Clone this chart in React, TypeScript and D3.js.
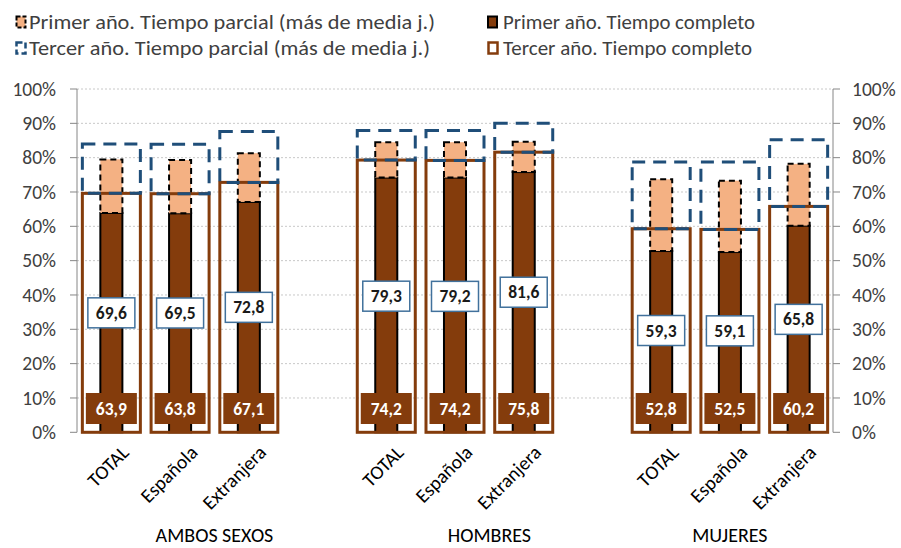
import React from "react";
import * as d3 from "d3";

const groups = ["AMBOS SEXOS", "HOMBRES", "MUJERES"];
const subCategories = ["TOTAL", "Española", "Extranjera"];
const primerCompleto = [63.9, 63.8, 67.1, 74.2, 74.2, 75.8, 52.8, 52.5, 60.2];
const primerParcial = [15.6, 15.5, 14.2, 10.3, 10.3, 8.8, 20.9, 20.8, 18.0];
const tercerCompleto = [69.6, 69.5, 72.8, 79.3, 79.2, 81.6, 59.3, 59.1, 65.8];
const tercerParcial = [14.4, 14.4, 14.8, 8.6, 8.7, 8.4, 19.4, 19.6, 19.4];
const yTicks = [0, 10, 20, 30, 40, 50, 60, 70, 80, 90, 100];
const legendLabels = [
  "Primer año. Tiempo parcial (más de media j.)",
  "Primer año. Tiempo completo",
  "Tercer año. Tiempo parcial (más de media j.)",
  "Tercer año. Tiempo completo",
];

const W = 901;
const H = 548;
const BROWN = "#843C0C";
const PEACH = "#F4B183";
const BLUE = "#1F4E79";
const BOXBLUE = "#41719C";
const AXIS = "#868686";
const TEXT = "#404040";
const FONT = "Carlito, Calibri, Lato, sans-serif";

const fmt = (v: number) => v.toFixed(1).replace(".", ",");

export default function App() {
  const left = 77;
  const right = 833;
  const slots = d3.range(11);
  const x = d3
    .scaleBand<number>()
    .domain(slots)
    .range([left, right])
    .paddingInner(0.156)
    .paddingOuter(0.078);
  const y = d3.scaleLinear().domain([0, 100]).range([432.3, 89]);

  const items = groups.flatMap((g, gi) =>
    subCategories.map((c, ci) => ({ group: g, cat: c, slot: gi * 4 + ci, idx: gi * 3 + ci }))
  );

  const bw = x.bandwidth();
  const innerW = bw * 0.38;

  const groupSpans = [
    [0, 3],
    [4, 7],
    [8, 10],
  ];

  const legendWidths = [406, 252, 401, 249];

  return (
    <svg
      width={W}
      height={H}
      style={{ position: "absolute", left: 0, top: 0, background: "#fff" }}
      fontFamily={FONT}
    >
      {/* legend */}
      <g fontSize={20} fill={TEXT}>
        <rect x={16.5} y={16.5} width={9} height={11} fill={PEACH} stroke="#000" strokeWidth={2} strokeDasharray="4,2" />
        <text x={29} y={29} textLength={legendWidths[0]} lengthAdjust="spacingAndGlyphs">{legendLabels[0]}</text>
        <rect x={488} y={16.5} width={9} height={11} fill={BROWN} stroke="#000" strokeWidth={2} />
        <text x={503} y={29} textLength={legendWidths[1]} lengthAdjust="spacingAndGlyphs">{legendLabels[1]}</text>
        <rect x={16.5} y={42.5} width={9} height={11} fill="none" stroke={BLUE} strokeWidth={2.5} strokeDasharray="6,3" />
        <text x={29} y={55} textLength={legendWidths[2]} lengthAdjust="spacingAndGlyphs">{legendLabels[2]}</text>
        <rect x={488.5} y={42.5} width={9} height={11} fill="#fff" stroke={BROWN} strokeWidth={2.5} />
        <text x={503} y={55} textLength={legendWidths[3]} lengthAdjust="spacingAndGlyphs">{legendLabels[3]}</text>
      </g>

      {/* gridlines */}
      {yTicks.slice(1).map((t) => (
        <line
          key={"g" + t}
          x1={left}
          x2={right}
          y1={y(t)}
          y2={y(t)}
          stroke="#C8C8C8"
          strokeWidth={1}
          strokeDasharray="2,2"
        />
      ))}

      {/* inner bars: primer año */}
      {items.map((d) => {
        const cx = (x(d.slot) as number) + bw / 2;
        const top1 = y(primerCompleto[d.idx]);
        const top2 = y(primerCompleto[d.idx] + primerParcial[d.idx]);
        return (
          <g key={"in" + d.slot}>
            <rect
              x={cx - innerW / 2}
              y={top1}
              width={innerW}
              height={y(0) - top1}
              fill={BROWN}
              stroke="#000"
              strokeWidth={2}
            />
            <rect
              x={cx - innerW / 2}
              y={top2}
              width={innerW}
              height={top1 - top2}
              fill={PEACH}
              stroke="#000"
              strokeWidth={2}
              strokeDasharray="6,4"
            />
          </g>
        );
      })}

      {/* outer bars: tercer año */}
      {items.map((d) => {
        const x0 = x(d.slot) as number;
        const top1 = y(tercerCompleto[d.idx]);
        const top2 = y(tercerCompleto[d.idx] + tercerParcial[d.idx]);
        return (
          <g key={"out" + d.slot}>
            <rect
              x={x0}
              y={top1}
              width={bw}
              height={y(0) - top1}
              fill="none"
              stroke={BROWN}
              strokeWidth={3}
            />
            <rect
              x={x0}
              y={top2}
              width={bw}
              height={top1 - top2}
              fill="none"
              stroke={BLUE}
              strokeWidth={3}
              strokeDasharray="13,8"
            />
          </g>
        );
      })}

      {/* axes */}
      <line x1={left} x2={left} y1={y(100)} y2={y(0)} stroke={AXIS} strokeWidth={1} />
      <line x1={right} x2={right} y1={y(100)} y2={y(0)} stroke={AXIS} strokeWidth={1} />
      {yTicks.map((t) => (
        <g key={"t" + t}>
          <line x1={left - 7} x2={left} y1={y(t)} y2={y(t)} stroke={AXIS} />
          <line x1={right} x2={right + 7} y1={y(t)} y2={y(t)} stroke={AXIS} />
          <text x={56} y={y(t)} dy="0.35em" textAnchor="end" fontSize={19.5} fill={TEXT}>
            {t + "%"}
          </text>
          <text x={852} y={y(t)} dy="0.35em" textAnchor="start" fontSize={19.5} fill={TEXT}>
            {t + "%"}
          </text>
        </g>
      ))}

      {/* value labels */}
      {items.map((d) => {
        const cx = (x(d.slot) as number) + bw / 2;
        const cy3 = y(tercerCompleto[d.idx] / 2);
        return (
          <g key={"lab" + d.slot} fontWeight="bold" fontSize={17.5}>
            <rect x={cx - 25.5} y={393} width={51} height={31} fill={BROWN} />
            <text x={cx} y={408.5} dy="0.35em" textAnchor="middle" fill="#fff">
              {fmt(primerCompleto[d.idx])}
            </text>
            <rect
              x={cx - 23.5}
              y={cy3 - 15}
              width={47}
              height={30}
              fill="#fff"
              stroke={BOXBLUE}
              strokeWidth={1.5}
            />
            <text x={cx} y={cy3} dy="0.35em" textAnchor="middle" fill="#1a1a1a">
              {fmt(tercerCompleto[d.idx])}
            </text>
          </g>
        );
      })}

      {/* category labels */}
      {items.map((d) => {
        const cx = (x(d.slot) as number) + bw / 2;
        return (
          <text
            key={"c" + d.slot}
            transform={`translate(${cx + 9},${444}) rotate(-45)`}
            textAnchor="end"
            dy="0.7em"
            fontSize={19.5}
            fill="#000"
          >
            {d.cat}
          </text>
        );
      })}

      {/* group labels */}
      {groups.map((g, gi) => {
        const [a, b] = groupSpans[gi];
        const x0 = (x(a) as number) - (x.step() - bw) / 2;
        const x1 = (x(b) as number) + bw + (x.step() - bw) / 2;
        return (
          <text key={g} x={(x0 + x1) / 2} y={542} textAnchor="middle" fontSize={20} fill="#000">
            {g}
          </text>
        );
      })}
    </svg>
  );
}
